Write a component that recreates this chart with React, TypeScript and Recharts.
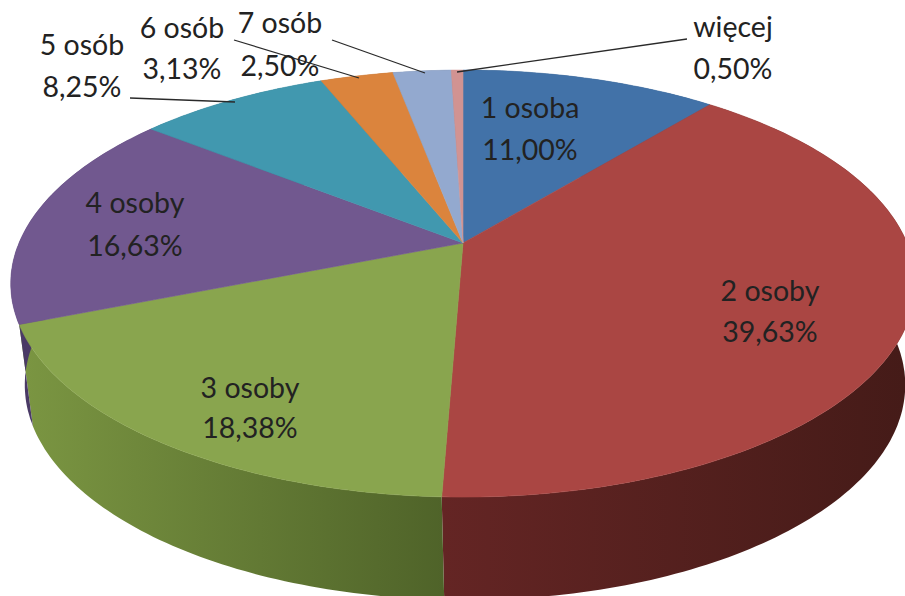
import React from "react";
import { PieChart, Pie } from "recharts";

const categories = ["1 osoba", "2 osoby", "3 osoby", "4 osoby", "5 osób", "6 osób", "7 osób", "więcej"];
const shares = [11.0, 39.63, 18.38, 16.63, 8.25, 3.13, 2.5, 0.5];

const topColors = ["#4272a8", "#aa4643", "#89a54e", "#71588f", "#4198af", "#db843d", "#93a9cf", "#d19392"];
const wallStops = [
  ["#2b4a70", "#2b4a70"],
  ["#642524", "#451b18"],
  ["#7b9642", "#4f6329"],
  ["#4a3a66", "#4a3a66"],
  ["#2b6474", "#2b6474"],
  ["#925828", "#925828"],
  ["#627089", "#627089"],
  ["#8b6261", "#8b6261"],
];

// label anchors and leader lines, in page pixels
const labelCenters = [
  [530, 118, 160],
  [770, 301, 342],
  [250, 398, 438],
  [135, 213, 256],
  [82, 55, 97],
  [182, 38, 79],
  [280, 33, 76],
  [733, 37, 79],
];
const leaders: (number[][] | null)[] = [
  null,
  null,
  null,
  null,
  [[130, 98], [235, 102]],
  [[234, 40], [359, 78]],
  [[332, 40], [425, 73]],
  [[687, 39], [457, 72]],
];

const WIDTH = 905;
const HEIGHT = 596;
const APEX_X = 463;
const APEX_Y = 243;

// top face: a circle seen in perspective, the hub lands above the ellipse centre
const TILT = -0.19;
const SCALE_X = 444;
const SCALE_Y = 205.8;

const TOP_ELLIPSE = { cx: 463, cy: 283.6, rx: 452, ry: 213.5 };
const BOTTOM_ELLIPSE = { cx: 465, cy: 385, rx: 440, ry: 215 };

const RAD = Math.PI / 180;

const rimPoint = (angle: number) => {
  const theta = (90 - angle) * RAD;
  const x = Math.sin(theta);
  const y = -Math.cos(theta);
  const d = 1 + TILT * y;
  return [APEX_X + (SCALE_X * x) / d, APEX_Y + (SCALE_Y * y) / d];
};

const bottomPoint = (angle: number) => {
  const [x, y] = rimPoint(angle);
  const u = (x - TOP_ELLIPSE.cx) / TOP_ELLIPSE.rx;
  const v = (y - TOP_ELLIPSE.cy) / TOP_ELLIPSE.ry;
  return [BOTTOM_ELLIPSE.cx + BOTTOM_ELLIPSE.rx * u, BOTTOM_ELLIPSE.cy + BOTTOM_ELLIPSE.ry * v];
};

const sweep = (start: number, end: number, fn: (a: number) => number[]) => {
  const n = Math.max(2, Math.ceil(Math.abs(end - start)));
  const pts: number[][] = [];
  for (let i = 0; i <= n; i++) pts.push(fn(start + ((end - start) * i) / n));
  return pts;
};

const toPath = (pts: number[][]) =>
  "M" + pts.map((p) => `${p[0].toFixed(1)},${p[1].toFixed(1)}`).join("L") + "Z";

const TopFace = (props: any) => {
  const { startAngle, endAngle, index } = props;
  const fill = topColors[index];
  const d = toPath([[APEX_X, APEX_Y], ...sweep(startAngle, endAngle, rimPoint)]);
  return <path d={d} fill={fill} stroke={fill} strokeWidth={0.6} />;
};

const WallFace = (props: any) => {
  const { startAngle, endAngle, index } = props;
  const top = sweep(startAngle, endAngle, rimPoint);
  const bottom = sweep(startAngle, endAngle, bottomPoint).reverse();
  const xs = [...top, ...bottom].map((p) => p[0]);
  const id = `wall-${index}`;
  const [a, b] = wallStops[index];
  // red runs right to left across the front, green left to right
  const x1 = index === 1 ? 443 : Math.min(...xs);
  const x2 = index === 1 ? 905 : Math.max(...xs);
  return (
    <g>
      <defs>
        <linearGradient id={id} gradientUnits="userSpaceOnUse" x1={x1} x2={x2} y1={0} y2={0}>
          <stop offset="0%" stopColor={a} />
          <stop offset="100%" stopColor={b} />
        </linearGradient>
      </defs>
      <path d={toPath([...top, ...bottom])} fill={`url(#${id})`} />
    </g>
  );
};

const SliceLabel = (props: any) => {
  const { index } = props;
  const [x, y1, y2] = labelCenters[index];
  const line = leaders[index];
  const textStyle = { fontFamily: "Lato, sans-serif", fontSize: 28.5 };
  return (
    <g>
      {line && (
        <polyline
          points={line.map((p) => p.join(",")).join(" ")}
          fill="none"
          stroke="#2a2a2a"
          strokeWidth={1.3}
        />
      )}
      <text x={x} y={y1} textAnchor="middle" fill="#222" style={textStyle}>
        {categories[index]}
      </text>
      <text x={x} y={y2} textAnchor="middle" fill="#222" style={textStyle}>
        {shares[index].toFixed(2).replace(".", ",") + "%"}
      </text>
    </g>
  );
};

const chartData = categories.map((name, i) => ({ name, value: shares[i] }));

export default function App() {
  return (
    <div style={{ position: "absolute", left: 0, top: 0, width: WIDTH, height: HEIGHT, background: "#fff", overflow: "hidden" }}>
      <PieChart width={WIDTH} height={HEIGHT} margin={{ top: 0, right: 0, bottom: 0, left: 0 }}>
        <Pie
          data={chartData}
          dataKey="value"
          cx={APEX_X}
          cy={APEX_Y}
          outerRadius={200}
          startAngle={90}
          endAngle={-270}
          paddingAngle={0}
          shape={WallFace}
          label={false}
          labelLine={false}
          isAnimationActive={false}
        />
        <Pie
          data={chartData}
          dataKey="value"
          cx={APEX_X}
          cy={APEX_Y}
          outerRadius={200}
          startAngle={90}
          endAngle={-270}
          paddingAngle={0}
          shape={TopFace}
          label={SliceLabel}
          labelLine={false}
          isAnimationActive={false}
        />
      </PieChart>
    </div>
  );
}
